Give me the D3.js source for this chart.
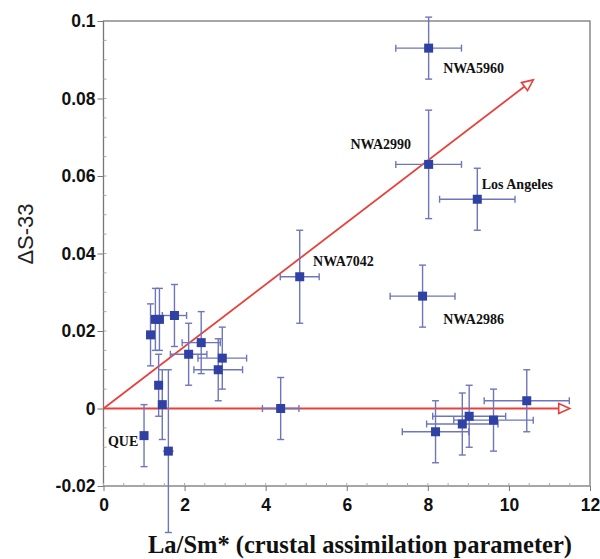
<!DOCTYPE html>
<html><head><meta charset="utf-8">
<script src="https://cdn.jsdelivr.net/npm/d3@7"></script>
<style>body{margin:0;background:#fff}</style>
</head><body>
<svg id="c" width="600" height="559"></svg>
<script>
const xVals = [1.16,1.28,1.38,1.75,2.10,2.41,2.93,2.83,1.36,1.45,1.00,1.60,4.37,4.84,7.87,8.02,8.02,9.22,8.19,8.85,9.02,9.62,10.44];
const yVals = [0.019,0.023,0.023,0.024,0.014,0.017,0.013,0.010,0.006,0.001,-0.007,-0.011,0.000,0.034,0.029,0.093,0.063,0.054,-0.006,-0.004,-0.002,-0.003,0.002];
const xErr  = [0,0.05,0.05,0.30,0.45,0.47,0.60,0.60,0.1,0.1,0,0.13,0.45,0.48,0.80,0.81,0.81,0.93,0.82,0.88,0.90,0.98,1.05];
const yErr  = [0.008,0.008,0.008,0.008,0.008,0.008,0.008,0.008,0.008,0.009,0.008,0.021,0.008,0.012,0.008,0.008,0.014,0.008,0.008,0.008,0.008,0.008,0.008];
const labelNames = ["NWA5960","NWA2990","Los Angeles","NWA7042","NWA2986","QUE"];
const labelX = [8.38,6.09,9.33,5.17,8.38,0.11];
const labelY = [0.0866,0.0669,0.0567,0.0367,0.0217,-0.0097];
const xTicks = [0,2,4,6,8,10,12];
const yTicks = [-0.02,0,0.02,0.04,0.06,0.08,0.1];
const trendEnd = [10.6,0.0848];
const flatEnd = [11.5,0];

const svg = d3.select("#c");
const L=103.5,R=590,T=21,B=486;
const x = d3.scaleLinear().domain([0,12]).range([L,R]);
const y = d3.scaleLinear().domain([-0.02,0.1]).range([B,T]);

// frame
svg.append("rect").attr("x",L).attr("y",T).attr("width",R-L).attr("height",B-T)
  .attr("fill","none").attr("stroke","#777").attr("stroke-width",1.3);

// minor ticks
const xm = d3.range(0,12.01,0.5), ym = d3.range(-0.02,0.1001,0.005);
svg.append("g").selectAll("line").data(xm).join("line")
  .attr("x1",d=>x(d)).attr("x2",d=>x(d)).attr("y1",B).attr("y2",B-3).attr("stroke","#aaa");
svg.append("g").selectAll("line").data(ym).join("line")
  .attr("x1",L).attr("x2",L+3).attr("y1",d=>y(d)).attr("y2",d=>y(d)).attr("stroke","#aaa");

const xa = svg.append("g").attr("transform",`translate(0,${B})`)
  .call(d3.axisBottom(x).tickValues(xTicks).tickSize(5).tickPadding(3).tickFormat(d3.format("d")));
const ya = svg.append("g").attr("transform",`translate(${L},0)`)
  .call(d3.axisLeft(y).tickValues(yTicks).tickSize(6).tickPadding(2).tickFormat(d=>d===0?"0":String(+d.toFixed(2))));
[xa,ya].forEach(a=>{
  a.select(".domain").remove();
  a.selectAll("line").attr("stroke","#777");
  a.selectAll("text").attr("font-family","Liberation Sans, Arial, sans-serif")
    .attr("font-weight","bold").attr("font-size",17.5).attr("fill","#111");
});
xa.selectAll("text").attr("dy","0.95em");

// axis titles
svg.append("text").attr("x",360).attr("y",553).attr("text-anchor","middle")
  .attr("font-family","Liberation Serif, Times New Roman, serif").attr("font-weight","bold")
  .attr("font-size",24.5).attr("fill","#111").text("La/Sm* (crustal assimilation parameter)");
svg.append("text").attr("transform","translate(33,234) rotate(-90)").attr("text-anchor","middle")
  .attr("font-family","Liberation Sans, Arial, sans-serif")
  .attr("font-size",22).attr("fill","#222").text("ΔS-33");

// red arrows
const red="#e8413c";
function arrow(x2,y2){
  const px=x(x2), py=y(y2), ox=x(0), oy=y(0);
  const ang=Math.atan2(py-oy,px-ox);
  const len=11, w=5;
  const bx=px-len*Math.cos(ang), by=py-len*Math.sin(ang);
  svg.append("line").attr("x1",ox).attr("y1",oy).attr("x2",bx).attr("y2",by)
    .attr("stroke",red).attr("stroke-width",1.8);
  const p1=[bx+w*Math.sin(ang), by-w*Math.cos(ang)], p2=[bx-w*Math.sin(ang), by+w*Math.cos(ang)];
  svg.append("path").attr("d",`M${px},${py}L${p1}L${p2}Z`).attr("fill","#fff")
    .attr("stroke",red).attr("stroke-width",1.6);
}
arrow(flatEnd[0],flatEnd[1]);
arrow(trendEnd[0],trendEnd[1]);

// error bars
const eb="#6e76bb", cap=3.5;
const idx=d3.range(xVals.length);
const g=svg.append("g").attr("stroke",eb).attr("stroke-width",1.4);
idx.forEach(i=>{
  const cx=x(xVals[i]), cy=y(yVals[i]);
  const y1=y(yVals[i]+yErr[i]), y2=y(yVals[i]-yErr[i]);
  g.append("line").attr("x1",cx).attr("x2",cx).attr("y1",y1).attr("y2",y2);
  g.append("line").attr("x1",cx-cap).attr("x2",cx+cap).attr("y1",y1).attr("y2",y1);
  g.append("line").attr("x1",cx-cap).attr("x2",cx+cap).attr("y1",y2).attr("y2",y2);
  if(xErr[i]>0){
    const x1=x(xVals[i]-xErr[i]), x2=x(xVals[i]+xErr[i]);
    g.append("line").attr("x1",x1).attr("x2",x2).attr("y1",cy).attr("y2",cy);
    if(xErr[i]>0.2){
      g.append("line").attr("x1",x1).attr("x2",x1).attr("y1",cy-cap).attr("y2",cy+cap);
      g.append("line").attr("x1",x2).attr("x2",x2).attr("y1",cy-cap).attr("y2",cy+cap);
    }
  }
});
// markers
svg.append("g").selectAll("rect").data(idx).join("rect")
  .attr("x",i=>x(xVals[i])-4.5).attr("y",i=>y(yVals[i])-4.5)
  .attr("width",9).attr("height",9).attr("fill","#2f42a3");

// labels
svg.append("g").selectAll("text").data(labelNames).join("text")
  .attr("x",(d,i)=>x(labelX[i])).attr("y",(d,i)=>y(labelY[i]))
  .attr("font-family","Liberation Serif, Times New Roman, serif").attr("font-weight","bold")
  .attr("font-size",14).attr("fill","#111").text(d=>d);
</script>
</body></html>
